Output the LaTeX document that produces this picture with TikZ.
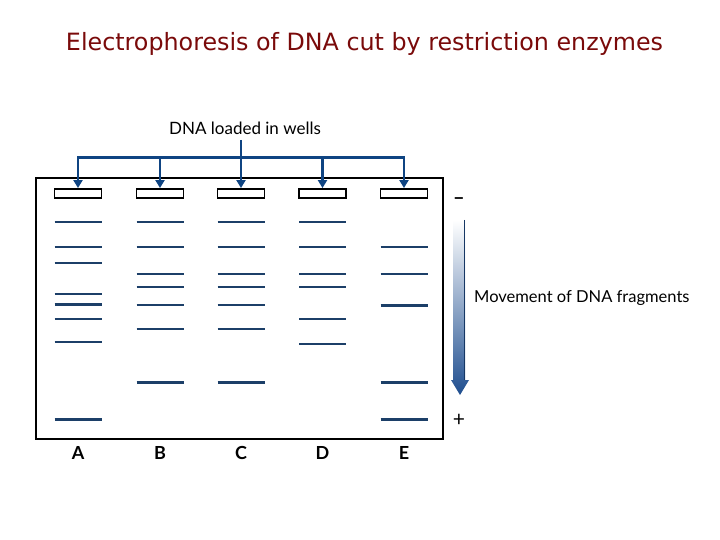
\documentclass[tikz,border=0pt]{standalone}
\usepackage{fontspec}
\setmainfont{Lato}
\newfontfamily\titlefont{DejaVu Sans}
\usetikzlibrary{arrows.meta}
\definecolor{titlered}{HTML}{7A0A0A}
\definecolor{feedblue}{HTML}{0F4482}
\definecolor{bandblue}{HTML}{1C3F68}
\definecolor{movblue}{HTML}{1F4E8F}
\tikzset{
  well/.style={draw=black, line width=1.8pt, minimum width=47pt, minimum height=9.3pt, inner sep=0pt},
  feed/.style={draw=feedblue, line width=2.4pt, -{Triangle[length=8pt,width=9pt]}},
  feedline/.style={draw=feedblue, line width=2.4pt, line cap=rect},
  bandthin/.style={draw=bandblue, line width=1.5pt},
  bandthick/.style={draw=bandblue, line width=2.3pt},
  lanelabel/.style={font=\bfseries\fontsize{18}{20}\selectfont, inner sep=0pt},
  plain/.style={font=\fontsize{16.5}{19}\selectfont, inner sep=0pt},
}
\begin{document}
\begin{tikzpicture}[x=1pt,y=-1pt]
\useasboundingbox (0,0) rectangle (720,540);
\fill[white] (0,0) rectangle (720,540);

% title
\node[inner sep=0pt, text=titlered] (title) at (364.5,44)
  {\resizebox{597pt}{!}{\titlefont\fontsize{20}{24}\selectfont Electrophoresis of DNA cut by restriction enzymes}};

% gel
\draw[line width=2pt] (36,178) rectangle (443,439);

% wells
\node[well] (wA) at (78,193.6) {};
\node[well] (wB) at (160,193.6) {};
\node[well] (wC) at (241,193.6) {};
\node[well] (wD) at (322.5,193.6) {};
\node[well] (wE) at (404,193.6) {};

% loading label and feed arrows
\node[plain, font=\fontsize{17}{20}\selectfont] (load) at (245,128) {DNA loaded in wells};
\coordinate (src) at (241,140);
\coordinate (bA) at (78,157.5);
\coordinate (bB) at (160,157.5);
\coordinate (bD) at (322.5,157.5);
\coordinate (bE) at (404,157.5);
\draw[feedline] (bA) -- (bE);
\draw[feed] (src) -- (wC.north);
\draw[feed] (bA) -- (wA.north);
\draw[feed] (bB) -- (wB.north);
\draw[feed] (bD) -- (wD.north);
\draw[feed] (bE) -- (wE.north);

% bands
\foreach \cx/\bands in {
  78/{222/thin,247/thin,263/thin,294/thick,304.5/thick,319/thin,342/thin,419.5/thick},
  160/{222/thin,247/thin,274/thick,287/thick,305/thick,329/thin,382.5/thick},
  241/{222/thin,247/thin,274/thick,287/thick,305/thick,329/thin,382.5/thick},
  322.5/{222/thin,247/thin,274/thick,287/thick,319/thin,344/thin},
  404/{247/thin,274/thick,305.5/thick,382.5/thick,419.5/thick}} {
  \foreach \y/\w in \bands {
    \draw[band\w] (\cx-23.5,\y) -- (\cx+23.5,\y);
  }
}

% movement arrow
\node[plain, font=\bfseries\fontsize{20}{22}\selectfont] (minus) at (459,201) {–};
\node[plain, font=\fontsize{21}{23}\selectfont] (plus) at (459,420) {+};
\shade[top color=white, bottom color=movblue]
  (453,220) -- (465,220) -- (465,380) -- (469,380) -- (460,395) -- (451,380) -- (453,380) -- cycle;
\draw[movblue!70!black, line width=0.8pt] (464.6,220) -- (464.6,380);
\node[plain, anchor=west] (mov) at (474,298) {Movement of DNA fragments};

% lane labels
\node[lanelabel] (lA) at (78,453) {A};
\node[lanelabel] (lB) at (160,453) {B};
\node[lanelabel] (lC) at (241,453) {C};
\node[lanelabel] (lD) at (322.5,453) {D};
\node[lanelabel] (lE) at (404,453) {E};
\end{tikzpicture}
\end{document}
